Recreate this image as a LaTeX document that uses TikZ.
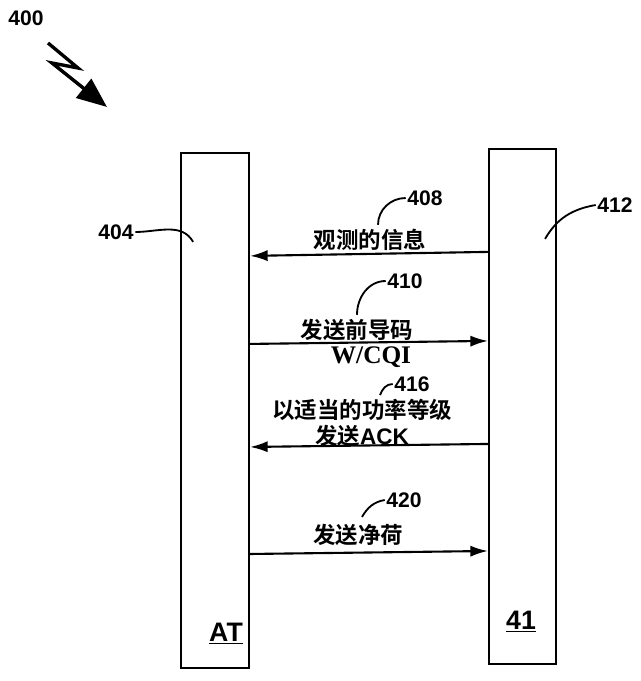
\documentclass[tikz,border=0pt]{standalone}
\usepackage{fontspec}
\setmainfont{Liberation Serif}
\newfontfamily\cjk{Noto Sans CJK SC}[BoldFont={Noto Sans CJK SC Bold}]
\newfontfamily\numfont{Liberation Sans}
\usetikzlibrary{arrows.meta, positioning, calc}

\tikzset{
    lifeline/.style={draw, line width=1.5pt, minimum width=1.7cm, minimum height=12.875cm, inner sep=0pt},
    msg/.style={line width=1.5pt, -{Latex[length=4.4mm, width=2.8mm]}},
    lead/.style={line width=1.3pt},
    refnum/.style={font=\numfont\bfseries\fontsize{15}{17}\selectfont, inner sep=1pt},
    msgtext/.style={font=\cjk\bfseries\fontsize{16}{18}\selectfont, align=center, inner sep=1pt},
}

\begin{document}
\begin{tikzpicture}[x=0.025cm, y=-0.025cm]
    \useasboundingbox (0,0) rectangle (640,681);

    % figure number and zigzag arrow
    \node[refnum] (fig) at (26,18) {400};
    \coordinate (z1) at (48,43);
    \coordinate (z2) at (107,107);
    \draw[line width=2.4pt, -{Triangle[length=7.5mm, width=6mm]}] (z1) -- (78,68) -- (52,63) -- (z2);

    % the two entities
    \node[lifeline] (at) at (215,410.5) {};
    \node[lifeline, minimum width=1.675cm] (bs) at (522.5,406.5) {};
    \node[font=\numfont\bfseries\fontsize{19}{21}\selectfont, anchor=base, inner sep=1pt] (atname) at (226,641) {\underline{AT}};
    \node[font=\numfont\bfseries\fontsize{19}{21}\selectfont, anchor=base, inner sep=1pt] (bsname) at (521,629) {\underline{41}};

    \node[refnum] (n404) at (116,232) {404};
    \draw[lead] (n404.east) to[out=0, in=120] ([xshift=0.33cm, yshift=-2.25cm]at.north west);
    \node[refnum] (n412) at (615,205) {412};
    \draw[lead] (n412.west) to[out=190, in=60] ([xshift=-0.3cm, yshift=-2.275cm]bs.north east);

    % messages
    \draw[msg] ([yshift=-2.6cm]bs.north west) -- ([yshift=-2.6cm]at.north east);
    \node[msgtext] (t408) at (370,240) {观测的信息};
    \node[refnum] (n408) at (425,198) {408};
    \draw[lead] (n408.west) to[out=180, in=90] ([xshift=0.2cm, yshift=2pt]t408.north);

    \draw[msg] ([yshift=-4.8cm]at.north east) -- ([yshift=-4.825cm]bs.north west);
    \node[msgtext] (t410) at (357,330) {发送前导码};
    \node[font=\bfseries\fontsize{18}{20}\selectfont, inner sep=1pt] (cqi) at (371,357) {W/CQI};
    \node[refnum] (n410) at (405,281) {410};
    \draw[lead] (n410.west) to[out=180, in=90] ([xshift=0cm, yshift=2pt]t410.north);

    \draw[msg] ([yshift=-7.4cm]bs.north west) -- ([yshift=-7.375cm]at.north east);
    \node[msgtext] (t416) at (362,423) {以适当的功率等级\\发送{\numfont ACK}};
    \node[refnum] (n416) at (412,384) {416};
    \draw[lead] (n416.west) to[out=180, in=70] ([xshift=0.45cm, yshift=2pt]t416.north);

    \draw[msg] ([yshift=-10.05cm]at.north east) -- ([yshift=-10.075cm]bs.north west);
    \node[msgtext] (t420) at (358,535) {发送净荷};
    \node[refnum] (n420) at (404,500) {420};
    \draw[lead] (n420.west) to[out=190, in=60] ([xshift=0.1cm, yshift=4pt]t420.north);
\end{tikzpicture}
\end{document}
